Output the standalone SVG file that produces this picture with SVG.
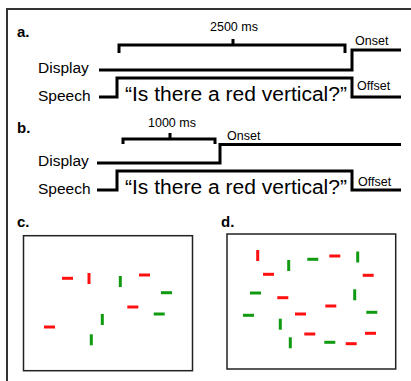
<svg xmlns="http://www.w3.org/2000/svg" width="411" height="381" viewBox="0 0 411 381">
  <style>
    text { font-family: "Liberation Sans", Arial, sans-serif; fill: #000; }
    .lbl { font-size: 15.5px; }
    .panel { font-size: 15px; font-weight: bold; }
    .small { font-size: 12.5px; }
    .ms { font-size: 12.5px; text-anchor: middle; }
    .quote { font-size: 20px; }
    .trace { fill: none; stroke: #000; stroke-width: 3; stroke-linejoin: miter; }
    .brace { fill: none; stroke: #000; stroke-width: 3; }
    .screen { fill: #fff; stroke: #222; stroke-width: 1.5; }
    .r { stroke: #ff1010; stroke-width: 3; }
    .g { stroke: #109a10; stroke-width: 3; }
  </style>
  <rect width="411" height="381" fill="#fff"/>
  <!-- outer frame, open on the right and bottom -->
  <path d="M7,381 V9 H411" fill="none" stroke="#333" stroke-width="2"/>

  <!-- a. long preview interval -->
  <g id="panel-a">
    <text class="panel" x="17" y="37">a.</text>
    <text class="ms" x="234" y="31">2500 ms</text>
    <path class="brace" d="M119,53 V45 H345 V53 M233,45 V39"/>
    <text class="small" x="355" y="45">Onset</text>
    <text class="lbl" x="38" y="73">Display</text>
    <path class="trace" d="M99,70 H352 V50 H401"/>
    <text class="lbl" x="38" y="101">Speech</text>
    <path class="trace" d="M99,97 H117 V78 H352 V97 H401"/>
    <text class="quote" x="125" y="101" textLength="222" lengthAdjust="spacingAndGlyphs">“Is there a red vertical?”</text>
    <text class="small" x="357" y="90">Offset</text>
  </g>

  <!-- b. short preview interval -->
  <g id="panel-b">
    <text class="panel" x="17" y="133">b.</text>
    <text class="ms" x="172" y="127">1000 ms</text>
    <path class="brace" d="M123,144 V139 H215 V144 M170,139 V133"/>
    <text class="small" x="227" y="140">Onset</text>
    <text class="lbl" x="38" y="166">Display</text>
    <path class="trace" d="M97,163 H220 V144.5 H401"/>
    <text class="lbl" x="38" y="194">Speech</text>
    <path class="trace" d="M97,190 H117 V171 H352 V190 H401"/>
    <text class="quote" x="125" y="194" textLength="222" lengthAdjust="spacingAndGlyphs">“Is there a red vertical?”</text>
    <text class="small" x="358" y="186">Offset</text>
  </g>

  <!-- c. sparse search display -->
  <g id="panel-c">
    <text class="panel" x="17" y="227">c.</text>
    <rect class="screen" x="23.5" y="235.7" width="169" height="135"/>
    <path class="r" d="M62,278.3 h11"/>
    <path class="r" d="M89,273 v11"/>
    <path class="g" d="M120.3,276 v11"/>
    <path class="r" d="M139,275 h11"/>
    <path class="g" d="M161,292.7 h11"/>
    <path class="r" d="M127.3,307 h11"/>
    <path class="g" d="M153.7,314 h11"/>
    <path class="g" d="M102.3,314 v11"/>
    <path class="r" d="M44,327 h11"/>
    <path class="g" d="M91.3,334.3 v11"/>
  </g>

  <!-- d. dense search display -->
  <g id="panel-d">
    <text class="panel" x="221" y="227">d.</text>
    <rect class="screen" x="227" y="234" width="168.7" height="135"/>
    <path class="r" d="M257.7,250 v11"/>
    <path class="g" d="M288.7,260 v11"/>
    <path class="g" d="M307.3,259.3 h11"/>
    <path class="r" d="M329.3,256 h11"/>
    <path class="g" d="M357.7,251.5 v11"/>
    <path class="r" d="M263,274.3 h11"/>
    <path class="r" d="M362.7,275.3 h11"/>
    <path class="g" d="M250,293 h11"/>
    <path class="r" d="M277.3,297.7 h11"/>
    <path class="g" d="M354.7,289.3 v11"/>
    <path class="r" d="M325.3,306 h11"/>
    <path class="g" d="M243,315.3 h11"/>
    <path class="r" d="M295,314 h11"/>
    <path class="g" d="M366.3,312.3 h11"/>
    <path class="g" d="M280.3,318.7 v11"/>
    <path class="r" d="M304.3,334 h11"/>
    <path class="r" d="M365,333.3 h11"/>
    <path class="g" d="M290.3,337.3 v11"/>
    <path class="g" d="M324.3,342.3 h11"/>
    <path class="r" d="M345.7,343.7 h11"/>
  </g>
</svg>
